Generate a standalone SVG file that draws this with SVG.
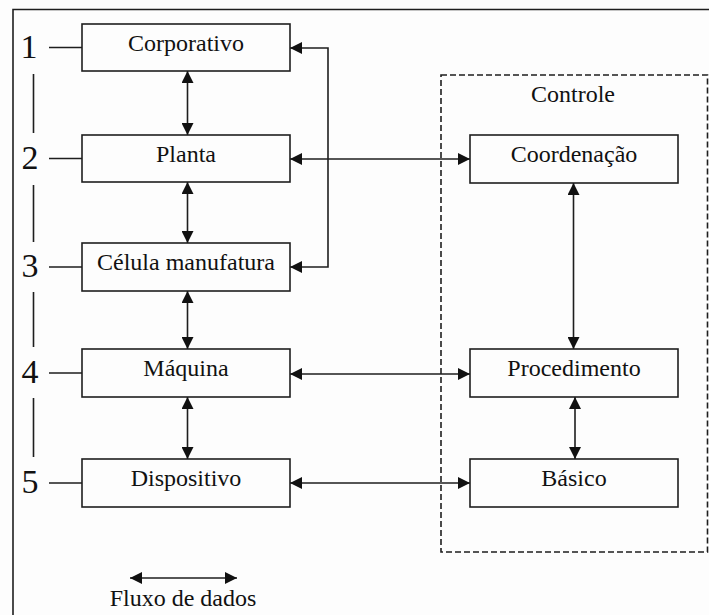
<svg xmlns="http://www.w3.org/2000/svg" width="709" height="615" viewBox="0 0 709 615" font-family="Liberation Serif, Times New Roman, DejaVu Serif, serif">
  <style>
    .box { fill: #fdfdfd; stroke: #1e1e1e; stroke-width: 1.6; }
    .lbl { font-size: 24px; fill: #111; text-anchor: middle; }
    .num { font-size: 34px; fill: #111; text-anchor: middle; }
    .ln { fill: none; stroke: #1e1e1e; stroke-width: 1.6; }
    .arr { fill: none; stroke: #1e1e1e; stroke-width: 1.6; marker-start: url(#head); marker-end: url(#head); }
    .dash { fill: none; stroke: #1e1e1e; stroke-width: 1.6; stroke-dasharray: 6 3; }
  </style>
  <defs>
    <marker id="head" markerUnits="userSpaceOnUse" markerWidth="12" markerHeight="12" refX="12" refY="6" orient="auto-start-reverse">
      <path d="M0,0 L12,6 L0,12 z" fill="#111"/>
    </marker>
  </defs>

  <rect width="709" height="615" fill="#fdfdfd"/>

  <!-- outer frame (open to the right and bottom) -->
  <path class="ln" d="M13,615 V9.5 H709"/>

  <!-- control area -->
  <g id="controle">
    <rect class="dash" x="441" y="75" width="266.5" height="477"/>
    <text class="lbl" x="573" y="102">Controle</text>
  </g>

  <!-- level numbers and ticks -->
  <g id="levels">
    <text class="num" x="29" y="58">1</text>
    <text class="num" x="30" y="169">2</text>
    <text class="num" x="30" y="277">3</text>
    <text class="num" x="30" y="383">4</text>
    <text class="num" x="30" y="493">5</text>
    <path class="ln" d="M49,47.5 H82 M49,158.5 H82 M49,267 H82 M49,373 H82 M49,483 H82"/>
    <path class="ln" d="M33.5,74 V133 M33.5,185 V242 M33.5,292 V347 M33.5,398 V457"/>
  </g>

  <!-- connectors -->
  <g id="connectors">
    <path class="arr" d="M187.5,71 V135"/>
    <path class="arr" d="M187.5,182 V243"/>
    <path class="arr" d="M187.5,291 V349"/>
    <path class="arr" d="M187.5,397 V459"/>
    <path class="arr" d="M290,48 H328 V267 H290"/>
    <path class="arr" d="M290,159 H470"/>
    <path class="arr" d="M290,374 H470"/>
    <path class="arr" d="M290,483 H470"/>
    <path class="arr" d="M573.5,183 V349"/>
    <path class="arr" d="M575,397 V459"/>
  </g>

  <!-- left column -->
  <g id="corporativo">
    <rect class="box" x="82" y="24" width="208" height="47"/>
    <text class="lbl" x="186" y="51">Corporativo</text>
  </g>
  <g id="planta">
    <rect class="box" x="82" y="135" width="208" height="47"/>
    <text class="lbl" x="186" y="162">Planta</text>
  </g>
  <g id="celula">
    <rect class="box" x="82" y="243" width="208" height="48"/>
    <text class="lbl" x="186" y="270">Célula manufatura</text>
  </g>
  <g id="maquina">
    <rect class="box" x="82" y="349" width="208" height="48"/>
    <text class="lbl" x="186" y="376">Máquina</text>
  </g>
  <g id="dispositivo">
    <rect class="box" x="82" y="459" width="208" height="48"/>
    <text class="lbl" x="186" y="486">Dispositivo</text>
  </g>

  <!-- right column -->
  <g id="coordenacao">
    <rect class="box" x="470" y="135" width="208" height="48"/>
    <text class="lbl" x="574" y="162">Coordenação</text>
  </g>
  <g id="procedimento">
    <rect class="box" x="470" y="349" width="208" height="48"/>
    <text class="lbl" x="574" y="376">Procedimento</text>
  </g>
  <g id="basico">
    <rect class="box" x="470" y="459" width="208" height="48"/>
    <text class="lbl" x="574" y="486">Básico</text>
  </g>

  <!-- legend -->
  <g id="legenda">
    <path class="arr" d="M130,578 H237"/>
    <text class="lbl" x="183" y="606">Fluxo de dados</text>
  </g>
</svg>
